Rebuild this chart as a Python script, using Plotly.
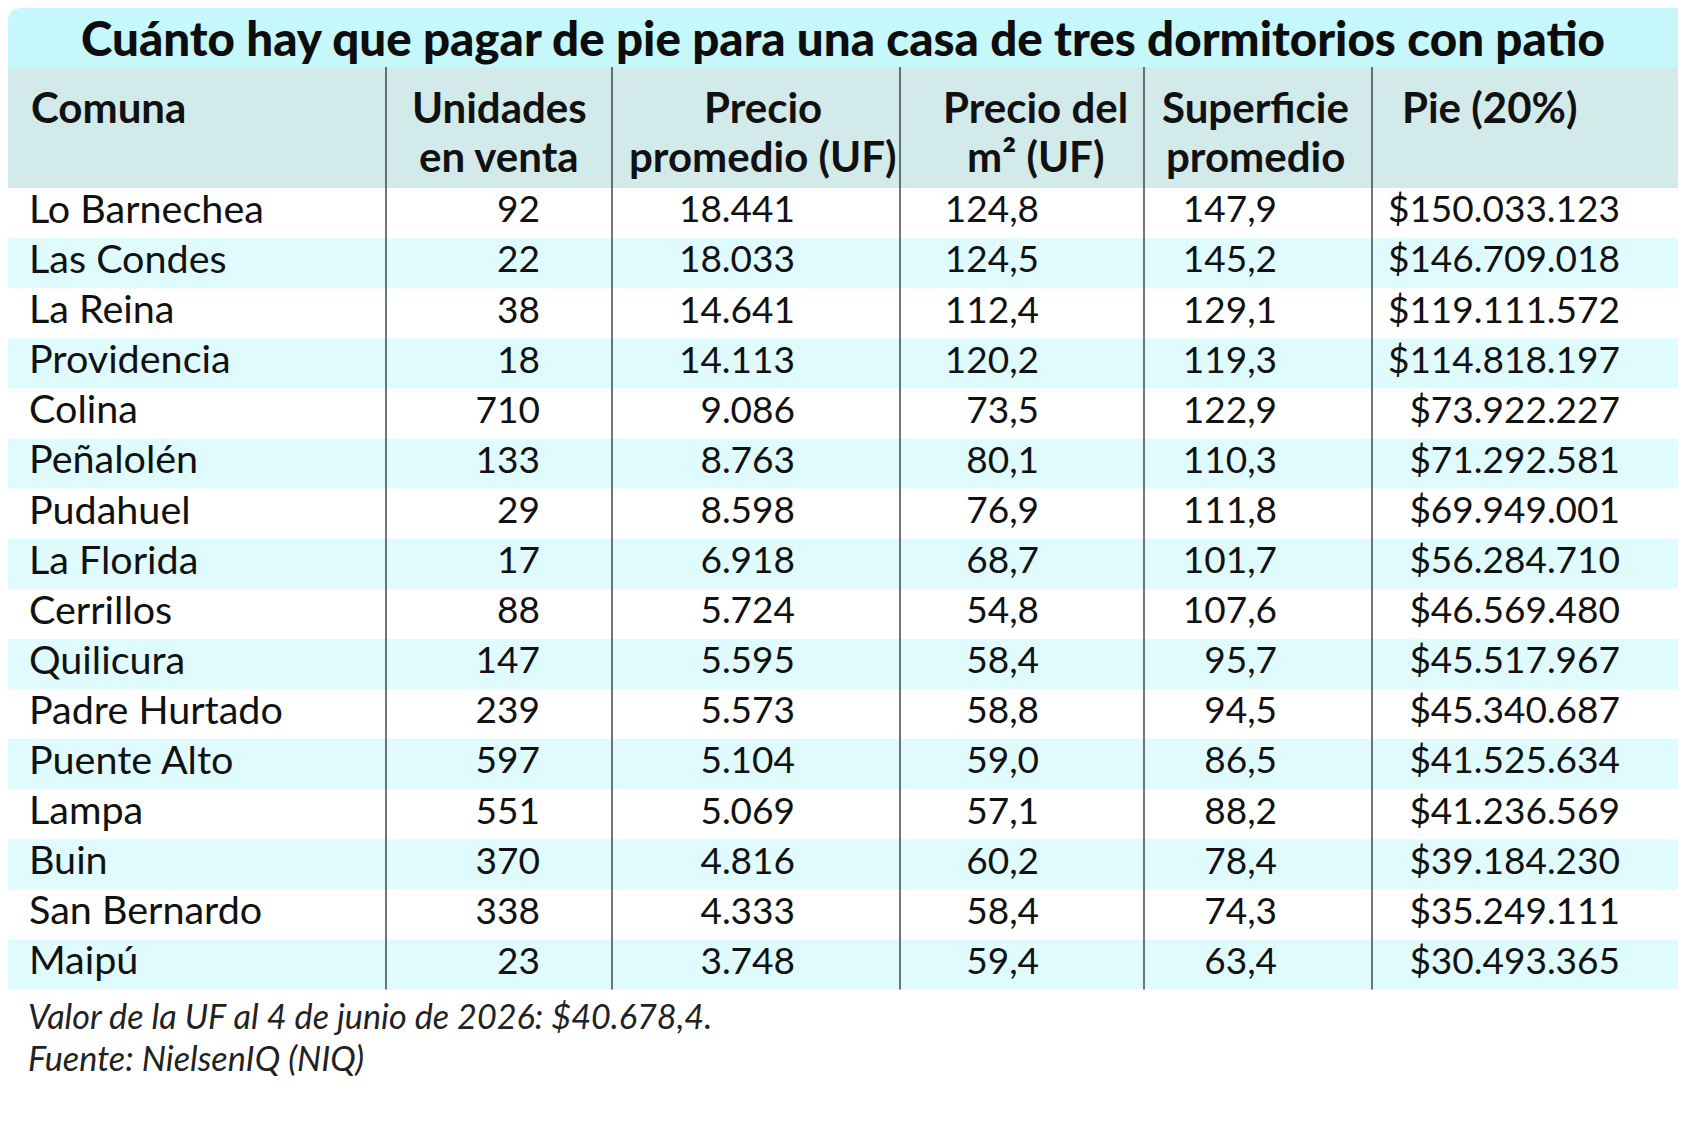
import plotly.graph_objects as go

# Datos de la tabla
titulo = "Cuánto hay que pagar de pie para una casa de tres dormitorios con patio"
encabezados = ["Comuna", "Unidades<br>en venta", "Precio<br>promedio (UF)",
               "Precio del<br>m² (UF)", "Superficie<br>promedio", "Pie (20%)"]
comunas = ["Lo Barnechea", "Las Condes", "La Reina", "Providencia", "Colina",
           "Peñalolén", "Pudahuel", "La Florida", "Cerrillos", "Quilicura",
           "Padre Hurtado", "Puente Alto", "Lampa", "Buin", "San Bernardo", "Maipú"]
unidades = [92, 22, 38, 18, 710, 133, 29, 17, 88, 147, 239, 597, 551, 370, 338, 23]
precio_uf = [18441, 18033, 14641, 14113, 9086, 8763, 8598, 6918, 5724, 5595,
             5573, 5104, 5069, 4816, 4333, 3748]
precio_m2 = [124.8, 124.5, 112.4, 120.2, 73.5, 80.1, 76.9, 68.7, 54.8, 58.4,
             58.8, 59.0, 57.1, 60.2, 58.4, 59.4]
superficie = [147.9, 145.2, 129.1, 119.3, 122.9, 110.3, 111.8, 101.7, 107.6, 95.7,
              94.5, 86.5, 88.2, 78.4, 74.3, 63.4]
pie = [150033123, 146709018, 119111572, 114818197, 73922227, 71292581, 69949001,
       56284710, 46569480, 45517967, 45340687, 41525634, 41236569, 39184230,
       35249111, 30493365]
notas = ["Valor de la UF al 4 de junio de 2026: $40.678,4.", "Fuente: NielsenIQ (NIQ)"]


def miles(n):
    return f"{n:,}".replace(",", ".")


def decimal(v):
    return f"{v:.1f}".replace(".", ",")


# Geometria (pixeles de la pagina; el body tiene 8px de margen)
W, H = 1688, 1125
OFF = 8
RIGHT = 1678
TOP_HEAD = 67
TOP_ROWS = 188
ROW_H = 50.1
col_lines = [386, 612, 900, 1144, 1372]

FONT = "Lato"
CYAN_TITLE = "#c6f7fb"
HEAD_BG = "#d3eaeb"
CYAN_ROW = "#e0fbfd"

n = len(comunas)
row_y = [TOP_ROWS + (i + 0.5) * ROW_H for i in range(n)]
bottom = TOP_ROWS + n * ROW_H

fig = go.Figure()

shapes = []
# banda del titulo con esquina redondeada
shapes.append(dict(type="path", xref="x", yref="y",
                   path=f"M {OFF},{TOP_HEAD} L {OFF},{OFF + 14} Q {OFF},{OFF} {OFF + 14},{OFF} "
                        f"L {RIGHT},{OFF} L {RIGHT},{TOP_HEAD} Z",
                   fillcolor=CYAN_TITLE, line=dict(width=0), layer="below"))
# encabezado
shapes.append(dict(type="rect", xref="x", yref="y", x0=0, x1=RIGHT, y0=TOP_HEAD, y1=TOP_ROWS,
                   fillcolor=HEAD_BG, line=dict(width=0), layer="below"))
# filas alternadas
for i in range(n):
    if i % 2 == 1:
        shapes.append(dict(type="rect", xref="x", yref="y", x0=0, x1=RIGHT,
                           y0=TOP_ROWS + i * ROW_H, y1=TOP_ROWS + (i + 1) * ROW_H,
                           fillcolor=CYAN_ROW, line=dict(width=0), layer="below"))
# separadores verticales
for xl in col_lines:
    shapes.append(dict(type="line", xref="x", yref="y", x0=xl, x1=xl, y0=TOP_HEAD, y1=bottom,
                       line=dict(color="#3a3a3a", width=1.4)))

# columnas de texto
columnas = [
    (comunas, 29, "middle right", 39.5),
    ([str(u) for u in unidades], 540, "middle left", 37),
    ([miles(p) for p in precio_uf], 795, "middle left", 37),
    ([decimal(v) for v in precio_m2], 1039, "middle left", 37),
    ([decimal(v) for v in superficie], 1277, "middle left", 37),
    (["$" + miles(p) for p in pie], 1620, "middle left", 37),
]
for textos, xa, pos, fs in columnas:
    fig.add_trace(go.Scatter(
        x=[xa] * n, y=row_y, mode="text", text=textos, textposition=pos,
        textfont=dict(family=FONT, size=fs, color="#111111"),
        hoverinfo="skip", showlegend=False,
    ))

annotations = []
annotations.append(dict(x=843, y=37, xref="x", yref="y", text=titulo,
                        showarrow=False, xanchor="center", yanchor="middle", borderpad=0,
                        font=dict(family=FONT, size=47.5, weight=900, color="#0d0d0d")))

head_x = [29, 499, 763, 1035, 1255, 1489]
for k, (txt, hx) in enumerate(zip(encabezados, head_x)):
    for j, linea in enumerate(txt.split("<br>")):
        annotations.append(dict(x=hx, y=107 + j * 49, xref="x", yref="y", text=f"<b>{linea}</b>",
                                showarrow=False, xanchor="left" if k == 0 else "center",
                                yanchor="middle",
                                font=dict(family=FONT, size=42, color="#111111")))

for j, nota in enumerate(notas):
    annotations.append(dict(x=26, y=1015 + j * 42, xref="x", yref="y", text=f"<i>{nota}</i>",
                            showarrow=False, xanchor="left", yanchor="middle",
                            font=dict(family=FONT, size=34.2, color="#222222")))

fig.update_layout(
    width=W, height=H,
    margin=dict(l=0, r=0, t=0, b=0),
    paper_bgcolor="white", plot_bgcolor="white",
    xaxis=dict(range=[OFF, W + OFF], visible=False, fixedrange=True),
    yaxis=dict(range=[H + OFF, OFF], visible=False, fixedrange=True),
    shapes=shapes, annotations=annotations,
)

fig.write_html("out.html")
